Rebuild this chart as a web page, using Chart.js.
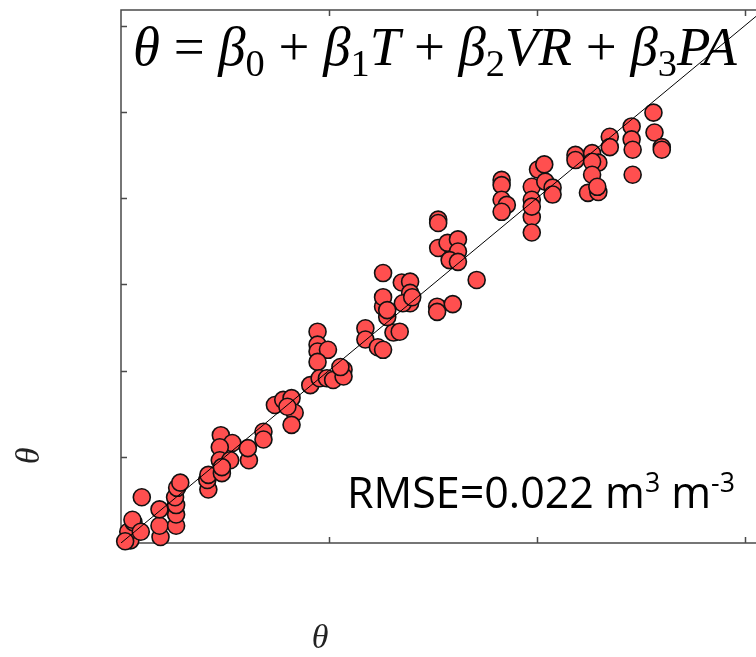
<!DOCTYPE html>
<html>
<head>
<meta charset="utf-8">
<script src="https://cdn.jsdelivr.net/npm/chart.js@4.4.0/dist/chart.umd.min.js"></script>
<style>
  html, body { margin: 0; padding: 0; background: #fff; overflow: hidden; }
</style>
</head>
<body>
<canvas id="chart-1" width="756" height="657"></canvas>
<script>
// observed (x) vs estimated (y) soil moisture
var thetaObs = [0.009, 0.007, 0.012, 0.004, 0.011, 0.019, 0.020, 0.038, 0.037, 0.037,
  0.053, 0.053, 0.053, 0.052, 0.054, 0.057, 0.084, 0.083, 0.084, 0.096,
  0.107, 0.095, 0.095, 0.097, 0.105, 0.097, 0.123, 0.122, 0.137, 0.137,
  0.148, 0.156, 0.164, 0.167, 0.164, 0.160, 0.182, 0.189, 0.189, 0.189,
  0.199, 0.189, 0.191, 0.198, 0.204, 0.214, 0.214, 0.211, 0.235, 0.235,
  0.247, 0.252, 0.262, 0.268, 0.256, 0.252, 0.252, 0.252, 0.270, 0.278,
  0.278, 0.278, 0.271, 0.256, 0.280, 0.304, 0.319, 0.304, 0.342, 0.305,
  0.305, 0.305, 0.314, 0.324, 0.324, 0.316, 0.324, 0.366, 0.366, 0.366,
  0.371, 0.366, 0.395, 0.395, 0.395, 0.395, 0.395, 0.401, 0.407, 0.408,
  0.415, 0.415, 0.437, 0.437, 0.453, 0.459, 0.453, 0.453, 0.449, 0.459,
  0.458, 0.470, 0.470, 0.491, 0.491, 0.492, 0.492, 0.512, 0.513, 0.520, 0.520];
var thetaEst = [0.003, 0.013, 0.024, 0.002, 0.027, 0.013, 0.053, 0.007, 0.020, 0.039,
  0.020, 0.033, 0.044, 0.053, 0.064, 0.070, 0.062, 0.073, 0.079, 0.125,
  0.116, 0.111, 0.096, 0.081, 0.096, 0.088, 0.096, 0.110, 0.129, 0.120,
  0.160, 0.166, 0.168, 0.151, 0.137, 0.158, 0.183, 0.245, 0.230, 0.222,
  0.224, 0.210, 0.191, 0.191, 0.189, 0.201, 0.193, 0.204, 0.249, 0.236,
  0.227, 0.224, 0.244, 0.245, 0.262, 0.274, 0.285, 0.313, 0.302, 0.303,
  0.290, 0.278, 0.278, 0.270, 0.285, 0.274, 0.277, 0.268, 0.305, 0.375,
  0.371, 0.342, 0.348, 0.352, 0.338, 0.328, 0.326, 0.421, 0.415, 0.398,
  0.392, 0.384, 0.413, 0.398, 0.378, 0.360, 0.390, 0.433, 0.439, 0.419,
  0.412, 0.404, 0.450, 0.444, 0.452, 0.441, 0.442, 0.427, 0.406, 0.407,
  0.413, 0.471, 0.459, 0.483, 0.468, 0.456, 0.427, 0.499, 0.476, 0.459, 0.456];
var lineX = [0, 0.7];   // 1:1 line
var xTicks = [0.2, 0.4, 0.6];
var yTicks = [0.1, 0.2, 0.3, 0.4, 0.5, 0.6];
var axisTitle = 'θ';
// formula pieces: [text, kind]  kind: i = italic, r = roman, s = subscript
var formula = [['θ', 'i'], [' = ', 'r'], ['β', 'i'], ['0', 's'], [' + ', 'r'],
  ['β', 'i'], ['1', 's'], ['T', 'i'], [' + ', 'r'], ['β', 'i'], ['2', 's'], ['VR', 'i'],
  [' + ', 'r'], ['β', 'i'], ['3', 's'], ['PA', 'i']];
var rmsePieces = [['RMSE=0.022 m', 'n'], ['3', 'p'], [' m', 'n'], ['-3', 'p']];

var points = thetaObs.map(function(v, i) { return { x: v, y: thetaEst[i] }; });
var linePts = lineX.map(function(v) { return { x: v, y: v }; });

function drawPieces(ctx, pieces, x0, base, size, fonts, targetW) {
  function fontFor(kind, s) {
    if (kind === 'i') return 'italic ' + s + 'px ' + fonts.serif;
    if (kind === 'r') return s + 'px ' + fonts.serif;
    if (kind === 's') return (s * 0.7) + 'px ' + fonts.serif;
    if (kind === 'p') return (s * 0.62) + 'px ' + fonts.sans;
    return s + 'px ' + fonts.sans;
  }
  var w = 0;
  pieces.forEach(function(p) { ctx.font = fontFor(p[1], size); w += ctx.measureText(p[0]).width; });
  var s = size * targetW / w;
  var x = x0;
  ctx.textBaseline = 'alphabetic';
  ctx.textAlign = 'left';
  pieces.forEach(function(p) {
    ctx.font = fontFor(p[1], s);
    var dy = 0;
    if (p[1] === 's') dy = s * 0.2;
    if (p[1] === 'p') dy = -s * 0.38;
    ctx.fillText(p[0], x, base + dy);
    x += ctx.measureText(p[0]).width;
  });
}

var framePlugin = {
  id: 'frame',
  beforeDatasetsDraw: function(chart) {
    var ctx = chart.ctx, a = chart.chartArea;
    var xs = chart.scales.x, ys = chart.scales.y;
    ctx.save();
    ctx.strokeStyle = '#4a4a4a';
    ctx.lineWidth = 1.5;
    ctx.beginPath();
    ctx.moveTo(a.right + 2, a.top); ctx.lineTo(a.left, a.top);
    ctx.lineTo(a.left, a.bottom); ctx.lineTo(a.right + 2, a.bottom);
    xTicks.forEach(function(v) {
      var px = Math.round(xs.getPixelForValue(v)) + 0.5;
      ctx.moveTo(px, a.bottom); ctx.lineTo(px, a.bottom - 6);
      ctx.moveTo(px, a.top); ctx.lineTo(px, a.top + 6);
    });
    yTicks.forEach(function(v) {
      var py = Math.round(ys.getPixelForValue(v)) + 0.5;
      ctx.moveTo(a.left, py); ctx.lineTo(a.left + 6, py);
    });
    ctx.stroke();
    ctx.restore();
  },
  afterDraw: function(chart) {
    var ctx = chart.ctx;
    ctx.save();
    ctx.fillStyle = '#000';
    drawPieces(ctx, formula, 133, 65, 40, { serif: '"Liberation Serif", serif', sans: '"Open Sans", sans-serif' }, 604);
    drawPieces(ctx, rmsePieces, 347, 508, 36, { serif: '"Liberation Serif", serif', sans: '"Open Sans", sans-serif' }, 388);
    ctx.fillStyle = '#222';
    ctx.font = 'italic 34px "Liberation Serif", serif';
    ctx.textAlign = 'center';
    ctx.textBaseline = 'middle';
    ctx.fillText(axisTitle, 320, 639);
    ctx.translate(30, 456);
    ctx.rotate(-Math.PI / 2);
    ctx.fillText(axisTitle, 0, 0);
    ctx.restore();
  }
};

new Chart(document.getElementById('chart-1'), {
  type: 'scatter',
  data: {
    datasets: [
      {
        type: 'line',
        label: '1:1',
        data: linePts,
        borderColor: '#000',
        borderWidth: 1,
        pointRadius: 0,
        fill: false,
        order: 0
      },
      {
        label: 'theta',
        data: points,
        backgroundColor: '#ff4f4f',
        borderColor: '#111',
        borderWidth: 1.6,
        pointRadius: 8.5,
        pointHoverRadius: 8.5,
        clip: false,
        order: 1
      }
    ]
  },
  options: {
    responsive: false,
    animation: false,
    events: [],
    layout: { autoPadding: false, padding: { top: 10, right: 0, left: 0, bottom: 0 } },
    plugins: {
      legend: { display: false },
      title: { display: false },
      tooltip: { enabled: false }
    },
    scales: {
      x: {
        type: 'linear',
        min: 0,
        max: 0.6106,
        ticks: { display: false },
        grid: { display: false },
        border: { display: false },
        afterFit: function(s) { s.height = 114; }
      },
      y: {
        type: 'linear',
        min: 0,
        max: 0.618,
        ticks: { display: false },
        grid: { display: false },
        border: { display: false },
        afterFit: function(s) { s.width = 121; }
      }
    }
  },
  plugins: [framePlugin]
});
</script>
</body>
</html>
